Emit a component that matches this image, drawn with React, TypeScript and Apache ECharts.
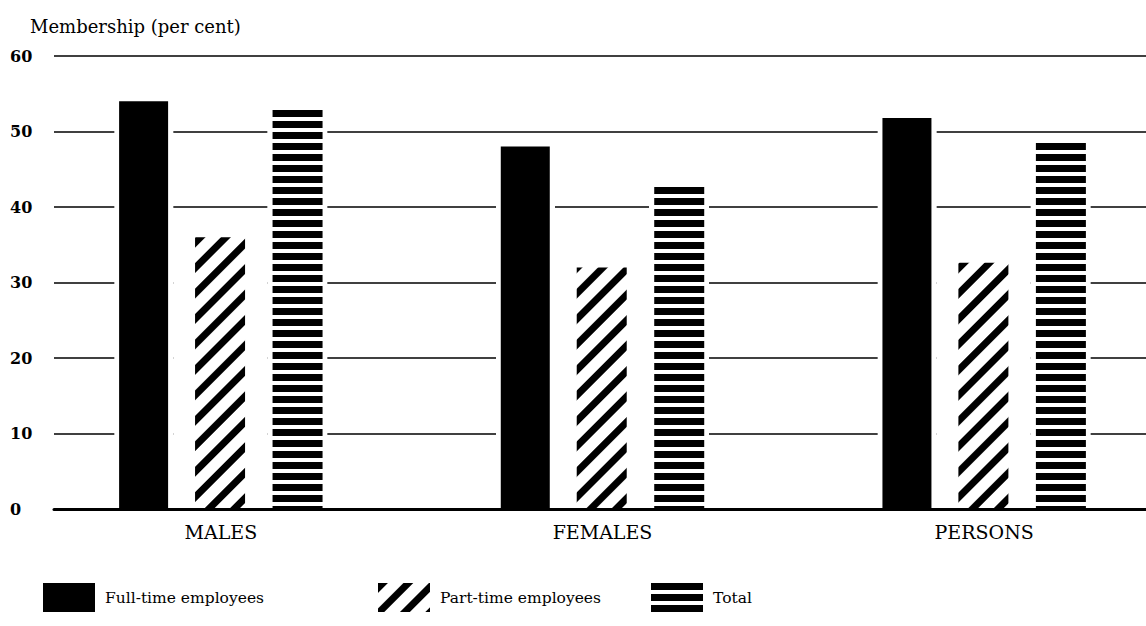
import React, { useEffect, useRef } from 'react';
import * as echarts from 'echarts';

const categories = ['MALES', 'FEMALES', 'PERSONS'];
const seriesNames = ['Full-time employees', 'Part-time employees', 'Total'];
const fullTime = [54, 48, 51.8];
const partTime = [36, 32, 32.6];
const total = [53, 43, 48.9];
const yMin = 0;
const yMax = 60;
const yStep = 10;
const yTitle = 'Membership (per cent)';

const SERIF = '"DejaVu Serif", "Liberation Serif", serif';

export default function App() {
  const ref = useRef<HTMLDivElement>(null);
  useEffect(() => {
    if (!ref.current) return;
    const chart = echarts.init(ref.current, undefined, { renderer: 'svg' });
    const legendBase = {
      top: 578,
      itemWidth: 52,
      itemHeight: 29,
      icon: 'rect',
      selectedMode: false,
      textStyle: { fontFamily: SERIF, fontSize: 15.5, color: '#000', padding: [0, 0, 0, 5] },
    };
    chart.setOption({
      animation: false,
      backgroundColor: '#fff',
      title: {
        text: yTitle,
        left: 25,
        top: 12,
        textStyle: { fontFamily: SERIF, fontSize: 18, fontWeight: 'normal', color: '#000' },
      },
      legend: [
        { ...legendBase, left: 38, data: [seriesNames[0]] },
        { ...legendBase, left: 373, data: [seriesNames[1]] },
        { ...legendBase, left: 646, data: [seriesNames[2]] },
      ],
      grid: [
        { left: 54, right: 0, top: 56, height: 453, outerBoundsMode: 'none', containLabel: false },
        { left: 30, width: 1145, top: 56, height: 453, outerBoundsMode: 'none', containLabel: false },
      ],
      xAxis: [
        {
          gridIndex: 0,
          type: 'category',
          data: categories,
          z: 10,
          axisLine: { show: true, lineStyle: { color: '#000', width: 3 } },
          axisTick: { show: false },
          axisLabel: { show: false },
          splitLine: { show: false },
        },
        {
          gridIndex: 1,
          type: 'category',
          data: categories,
          axisLine: { show: false },
          axisTick: { show: false },
          splitLine: { show: false },
          axisLabel: { margin: 13, fontFamily: SERIF, fontSize: 19, color: '#000' },
        },
        { gridIndex: 1, type: 'category', data: categories, show: false },
      ],
      yAxis: [
        {
          gridIndex: 0,
          type: 'value',
          min: yMin,
          max: yMax,
          interval: yStep,
          axisLine: { show: false },
          axisTick: { show: false },
          splitLine: { show: true, lineStyle: { color: '#000', width: 1.6 } },
          axisLabel: {
            align: 'left',
            margin: 44,
            fontFamily: SERIF,
            fontWeight: 'bold',
            fontSize: 16,
            color: '#000',
          },
        },
        { gridIndex: 1, type: 'value', min: yMin, max: yMax, show: false },
      ],
      series: [
        { name: 'bgFull', type: 'bar', xAxisIndex: 2, yAxisIndex: 1, data: fullTime, barWidth: 59, barGap: '0%', itemStyle: { color: '#fff' }, silent: true, z: 2 },
        { name: 'bgPart', type: 'bar', xAxisIndex: 2, yAxisIndex: 1, data: partTime, barWidth: 94, barGap: '0%', itemStyle: { color: '#fff' }, silent: true, z: 2 },
        { name: 'bgTotal', type: 'bar', xAxisIndex: 2, yAxisIndex: 1, data: total, barWidth: 60, barGap: '0%', itemStyle: { color: '#fff' }, silent: true, z: 2 },
        {
          name: seriesNames[0],
          type: 'bar',
          xAxisIndex: 1,
          yAxisIndex: 1,
          data: fullTime,
          barWidth: 49,
          barGap: '55%',
          itemStyle: { color: '#000' },
          z: 3,
        },
        {
          name: seriesNames[1],
          type: 'bar',
          xAxisIndex: 1,
          yAxisIndex: 1,
          data: partTime,
          barWidth: 50,
          barGap: '55%',
          itemStyle: {
            color: '#fff',
            decal: {
              symbol: 'rect',
              symbolSize: 1,
              color: '#000',
              dashArrayX: [1, 0],
              dashArrayY: [7, 11],
              rotation: -Math.PI / 4,
            },
          },
          z: 3,
        },
        {
          name: seriesNames[2],
          type: 'bar',
          xAxisIndex: 1,
          yAxisIndex: 1,
          data: total,
          barWidth: 50,
          barGap: '55%',
          itemStyle: {
            color: '#fff',
            decal: {
              symbol: 'rect',
              symbolSize: 1,
              color: '#000',
              dashArrayX: [1, 0],
              dashArrayY: [7, 4],
              rotation: 0,
            },
          },
          z: 3,
        },
      ],
    });
    return () => chart.dispose();
  }, []);
  return (
    <div
      ref={ref}
      style={{ position: 'fixed', left: 0, top: 0, width: 1146, height: 626, background: '#fff' }}
    />
  );
}
